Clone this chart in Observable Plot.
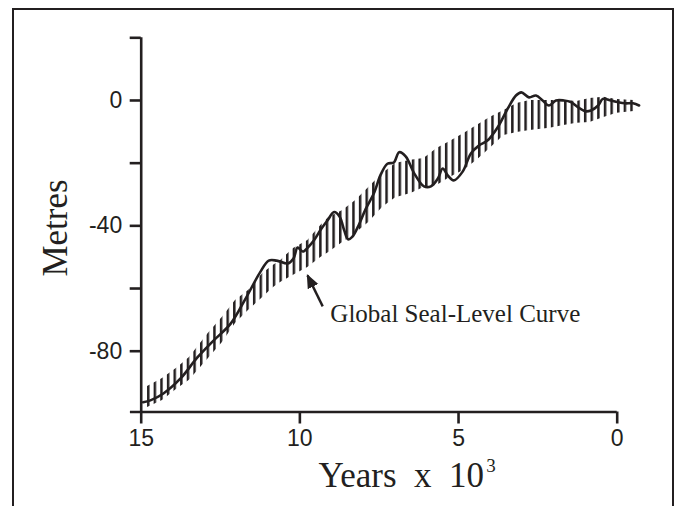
<!DOCTYPE html>
<html><head><meta charset="utf-8">
<script src="https://cdn.jsdelivr.net/npm/d3@7"></script>
<script src="https://cdn.jsdelivr.net/npm/@observablehq/plot@0.6"></script>
<style>
html,body{margin:0;padding:0;background:#fff;}
#wrap{position:relative;width:685px;height:506px;overflow:hidden;background:#fff;}
#frame{position:absolute;left:11.7px;top:8.2px;width:662px;height:520px;border:2.3px solid #231f20;border-bottom:none;box-sizing:border-box;}
#chart{position:absolute;left:0;top:0;}
</style></head><body>
<div id="wrap"><div id="frame"></div><div id="chart"></div></div>
<script>
// ---- data ----
const curveYears = [14.94, 14.71, 14.30, 13.76, 13.23, 12.72, 12.18, 11.71, 11.24, 10.98, 10.73, 10.38, 10.20, 10.07, 9.91, 9.72, 9.56, 9.34, 9.13, 8.92, 8.75, 8.60, 8.48, 8.35, 8.18, 7.92, 7.67, 7.45, 7.24, 7.04, 6.87, 6.66, 6.41, 6.09, 5.87, 5.65, 5.50, 5.34, 5.15, 4.87, 4.61, 4.36, 4.09, 3.77, 3.45, 3.19, 3.02, 2.78, 2.56, 2.35, 2.15, 1.93, 1.68, 1.46, 1.24, 1.02, 0.83, 0.60, 0.45, 0.20, -0.01, -0.25, -0.50, -0.69];
const curveMetres = [-96.3, -95.7, -93.5, -88.7, -82.0, -76.6, -71.2, -63.2, -54.6, -51.1, -51.1, -52.0, -50.4, -46.9, -48.2, -46.6, -44.7, -41.2, -38.3, -35.6, -37.0, -41.5, -44.3, -43.5, -40.5, -34.5, -29.7, -23.6, -20.2, -19.8, -16.5, -17.9, -23.0, -27.4, -27.4, -24.9, -21.7, -23.9, -25.5, -22.7, -16.9, -14.4, -12.8, -8.6, -2.6, 1.6, 2.6, 1.0, 1.6, 0, -1.6, 0, 0, -0.5, -2.1, -3.4, -3.2, -1.6, 0.5, 0, -0.5, -0.9, -0.9, -1.6];

const bandYears  = [14.80, 14.33, 13.85, 13.48, 12.88, 12.44, 12.03, 11.62, 11.17, 10.83, 10.61, 10.20, 9.75, 9.34, 9.09, 8.65, 8.24, 7.83, 7.39, 6.98, 6.50, 6.09, 5.68, 5.27, 4.83, 4.42, 4.01, 3.57, 3.16, 2.75, 2.12, 1.68, 1.27, 0.86, 0.42, 0.01, -0.53];
const bandTop    = [-91.3, -88.7, -85.2, -82.0, -74.3, -69.2, -63.8, -60.6, -55.2, -52.6, -51.1, -47.2, -44.7, -39.9, -37.3, -35.1, -31.9, -27.8, -23.3, -20.1, -19.1, -18.5, -15.3, -13.1, -10.5, -8.0, -5.4, -3.2, -1.0, 0, 0, 0, -0.3, 0.6, 1.0, 0.3, 0];
const bandBottom = [-98.0, -95.7, -91.9, -89.3, -82.3, -77.2, -71.2, -67.0, -62.9, -59.7, -58.1, -55.8, -53.3, -50.1, -48.5, -45.3, -42.4, -38.9, -34.1, -31.0, -29.7, -27.8, -27.1, -24.6, -22.3, -19.1, -15.3, -11.2, -10.2, -9.6, -8.9, -8.0, -7.3, -7.0, -5.4, -4.1, -3.5];

const xTicks = [15, 10, 5, 0];
const yTicks = [20, 0, -20, -40, -60, -80];
const yTickLabels = [0, -40, -80];

const yTitle = "Metres";
const xTitle = "Years\u00a0\u00a0x\u00a0\u00a010";
const xTitleSup = "3";
const noteText = "Global Seal-Level Curve";
const notePos = {year: 9.04, metres: -70.7};
const arrowFrom = {year: 9.28, metres: -65.7};
const arrowTo = {year: 9.76, metres: -55.8};

// ---- build tables ----
const curve = curveYears.map((year, i) => ({year, metres: curveMetres[i]}));
const band = bandYears.map((year, i) => ({year, top: bandTop[i], bottom: bandBottom[i]}));

const ink = "#231f20";
const serif = "'Liberation Serif', 'Times New Roman', serif";
const sans = "'Liberation Sans', Arial, sans-serif";
const yBottom = -99.4;

function solidArrow(color, context) {
  const doc = (context && context.document) || document;
  const NS = "http://www.w3.org/2000/svg";
  const m = doc.createElementNS(NS, "marker");
  m.setAttribute("viewBox", "0 -5 10 10");
  m.setAttribute("refX", "9");
  m.setAttribute("refY", "0");
  m.setAttribute("markerUnits", "userSpaceOnUse");
  m.setAttribute("markerWidth", "14");
  m.setAttribute("markerHeight", "14");
  m.setAttribute("orient", "auto");
  const p = doc.createElementNS(NS, "path");
  p.setAttribute("d", "M0,-4.2L10,0L0,4.2Z");
  p.setAttribute("fill", color);
  p.setAttribute("stroke", "none");
  m.appendChild(p);
  return m;
}

let arrowMark;
try {
  arrowMark = Plot.link([{}], {x1: () => arrowFrom.year, y1: () => arrowFrom.metres, x2: () => arrowTo.year, y2: () => arrowTo.metres, stroke: ink, strokeWidth: 2.4, markerEnd: solidArrow});
} catch (e) {
  arrowMark = Plot.arrow([{}], {x1: () => arrowFrom.year, y1: () => arrowFrom.metres, x2: () => arrowTo.year, y2: () => arrowTo.metres, stroke: ink, strokeWidth: 2.4, headLength: 12});
}

const svg = Plot.plot({
  width: 685,
  height: 506,
  marginLeft: 140.7,
  marginRight: 68.3,
  marginTop: 37.3,
  marginBottom: 94.5,
  style: {fontFamily: sans, fontSize: "23px", color: ink, background: "transparent", overflow: "visible"},
  x: {domain: [15, 0], label: null},
  y: {domain: [yBottom, 20], label: null},
  marks: [
    Plot.areaY(band, {x: "year", y1: "bottom", y2: "top", fill: "url(#hatch)"}),
    Plot.line(curve, {x: "year", y: "metres", curve: "catmull-rom", stroke: ink, strokeWidth: 2.6, strokeLinejoin: "round"}),
    Plot.ruleX([15], {y1: yBottom, y2: 20, stroke: ink, strokeWidth: 2.6}),
    Plot.ruleY([yBottom], {x1: 15.34, x2: 0, stroke: ink, strokeWidth: 2.6}),
    Plot.axisY(yTicks, {tickSize: 11, tickPadding: 8, tickFormat: d => yTickLabels.includes(d) ? String(d) : "", stroke: ink, strokeWidth: 2.6, label: null, fontSize: 23}),
    Plot.axisX(xTicks, {tickSize: 12, tickPadding: 6, tickFormat: d => String(d), stroke: ink, strokeWidth: 2.6, label: null, fontSize: 23}),
    Plot.text([yTitle], {frameAnchor: "left", dx: -74, dy: 3.1, rotate: -90, textAnchor: "middle", lineAnchor: "bottom", fontFamily: serif, fontSize: 35, fill: ink}),
    Plot.text([xTitle], {frameAnchor: "bottom-left", dx: 177.3, dy: 75.2, textAnchor: "start", lineAnchor: "bottom", fontFamily: serif, fontSize: 35, fill: ink, className: "xtitle"}),
    Plot.text([xTitleSup], {frameAnchor: "bottom-left", dx: 177.3, dy: 59.5, textAnchor: "start", lineAnchor: "bottom", fontFamily: serif, fontSize: 19, fill: ink, className: "xsup"}),
    Plot.text([noteText], {x: () => notePos.year, y: () => notePos.metres, textAnchor: "start", lineAnchor: "bottom", fontFamily: serif, fontSize: 25, fill: ink}),
    arrowMark
  ]
});

// hatch pattern for the band
const defs = document.createElementNS("http://www.w3.org/2000/svg", "defs");
defs.innerHTML = '<pattern id="hatch" patternUnits="userSpaceOnUse" x="147" y="0" width="6.62" height="20"><rect x="0" y="0" width="2.5" height="20" fill="#231f20"></rect></pattern>';
svg.insertBefore(defs, svg.firstChild);

document.getElementById("chart").appendChild(svg);

// place the superscript right after "10"
const mainT = svg.querySelector("g.xtitle text");
const supT = svg.querySelector("g.xsup text");
if (mainT && supT) {
  const bb = mainT.getBBox();
  supT.setAttribute("x", bb.x + bb.width + 2);
}
</script>
</body></html>
